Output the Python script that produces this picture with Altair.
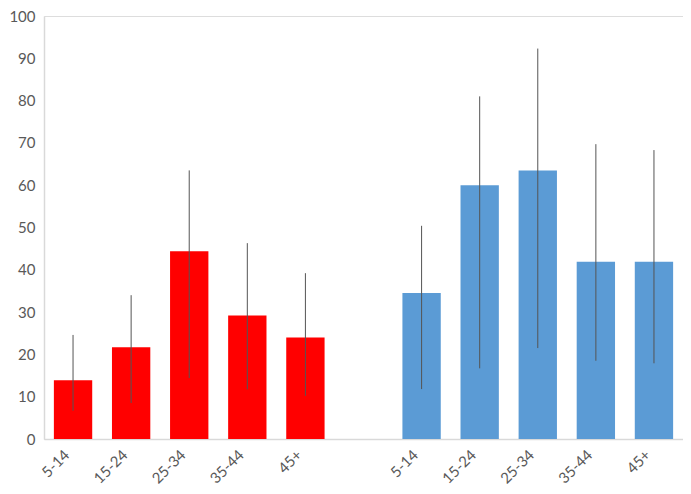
import altair as alt
import pandas as pd

age_groups = ["5-14", "15-24", "25-34", "35-44", "45+"]
red_values = [13.9, 21.7, 44.4, 29.2, 24.0]
red_low = [6.7, 8.5, 14.4, 11.7, 10.2]
red_high = [24.6, 34.0, 63.5, 46.3, 39.2]
blue_values = [34.5, 60.0, 63.5, 41.9, 41.9]
blue_low = [11.8, 16.7, 21.5, 18.5, 17.9]
blue_high = [50.4, 81.0, 92.3, 69.7, 68.3]
y_ticks = list(range(0, 101, 10))

rows = []
for g, vals, lo, hi in [("A", red_values, red_low, red_high), ("B", blue_values, blue_low, blue_high)]:
    for a, v, l, h in zip(age_groups, vals, lo, hi):
        rows.append({"key": f"{g}|{a}", "group": g, "value": v, "lo": l, "hi": h})
df = pd.DataFrame(rows)

domain = [f"A|{a}" for a in age_groups] + ["gap|"] + [f"B|{a}" for a in age_groups]

FONT = "Lato"
x = alt.X(
    "key:N",
    scale=alt.Scale(domain=domain, paddingInner=0.34, paddingOuter=0.17),
    axis=alt.Axis(
        title=None,
        labelExpr="split(datum.value, '|')[1]",
        labelAngle=-45,
        labelFontSize=15,
        labelColor="#595959",
        labelFont=FONT,
        ticks=False,
        domainColor="#d9d9d9",
        domainWidth=1.5,
        labelPadding=8,
        labelOffset=-11,
    ),
)
y_scale = alt.Scale(domain=[0, 100], nice=False)
y_axis = alt.Axis(
    title=None,
    values=y_ticks,
    grid=False,
    ticks=False,
    domainColor="#d9d9d9",
    domainWidth=1.5,
    labelFontSize=15,
    labelColor="#595959",
    labelFont=FONT,
    labelPadding=9,
)

bars = alt.Chart(df).mark_bar().encode(
    x=x,
    y=alt.Y("value:Q", scale=y_scale, axis=y_axis),
    color=alt.Color("group:N", scale=alt.Scale(domain=["A", "B"], range=["#ff0000", "#5b9bd5"]), legend=None),
)

errs = alt.Chart(df).mark_rule(color="#555555", strokeWidth=1).encode(
    x=alt.X("key:N"),
    y=alt.Y("lo:Q", scale=y_scale),
    y2="hi:Q",
)

chart = (
    alt.layer(bars, errs)
    .properties(
        width=639,
        height=423,
        autosize=alt.AutoSizeParams(type="none"),
        padding={"left": 36, "top": 8, "right": 0, "bottom": 47},
    )
    .configure_view(stroke=None)
    .configure(background="white")
)

chart.save("out.html", embed_options={"renderer": "svg", "actions": False})
